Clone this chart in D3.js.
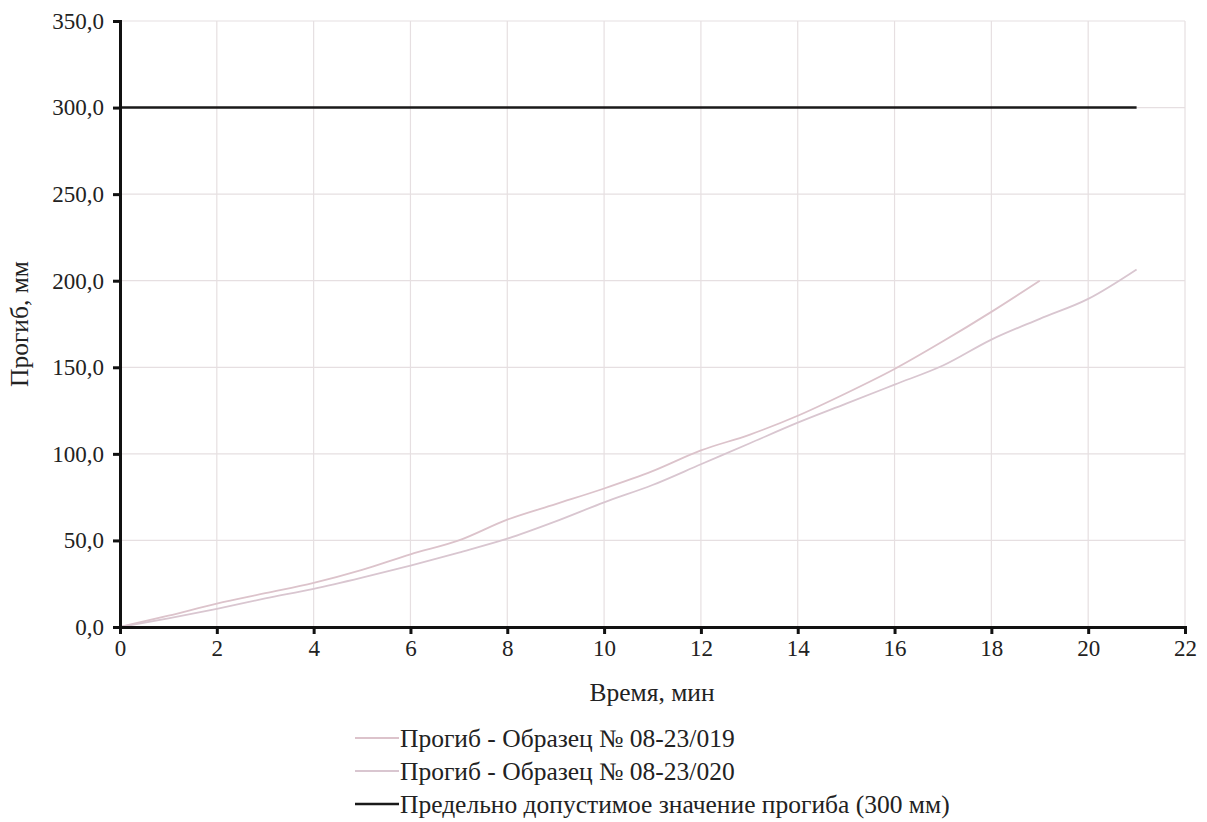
<!DOCTYPE html>
<html>
<head>
<meta charset="utf-8">
<script src="https://cdn.jsdelivr.net/npm/d3@7"></script>
</head>
<body style="margin:0">
<svg id="chart" width="1207" height="822"></svg>
<script>
'use strict';

// data (minutes -> deflection, mm)
const time019 = d3.range(0, 20);
const defl019 = [0, 6.5, 13.5, 19.5, 25.5, 33, 42, 50, 62, 71, 80, 90, 102, 111, 122, 135, 149, 165, 182, 200];
const time020 = d3.range(0, 22);
const defl020 = [0, 5, 10.5, 16.5, 22, 28.5, 35.5, 43, 51, 61, 72, 82, 94, 106, 118, 129, 140, 151, 166, 178, 189.5, 206.5];
const limitTime = [0, 21];
const limitValue = [300, 300];

const seriesNames = [
    'Прогиб - Образец № 08-23/019',
    'Прогиб - Образец № 08-23/020',
    'Предельно допустимое значение прогиба (300 мм)'
];
const seriesColors = ['#dcc3cb', '#d9c6d0', '#1a1a1a'];

const xTicks = d3.range(0, 23, 2);
const yTicks = d3.range(0, 351, 50);

const width = 1207, height = 822;
const margin = { top: 21, right: 22, bottom: 195, left: 120 };
const fontFamily = '"Liberation Serif"';
const tickSize = 23;
const labelSize = 25.5;

const svg = d3.select('#chart');

const x = d3.scaleLinear().domain([0, 22]).range([margin.left, width - margin.right]);
const y = d3.scaleLinear().domain([0, 350]).range([height - margin.bottom, margin.top]);

// grid
const grid = svg.append('g');
grid.selectAll('.vg').data(xTicks.slice(1)).join('line')
    .attr('x1', d => x(d)).attr('x2', d => x(d))
    .attr('y1', y(0)).attr('y2', y(350))
    .attr('stroke', '#e6dfe1').attr('stroke-width', 1.2);
grid.selectAll('.hg').data(yTicks.slice(1)).join('line')
    .attr('x1', x(0)).attr('x2', x(22))
    .attr('y1', d => y(d)).attr('y2', d => y(d))
    .attr('stroke', '#e6dfe1').attr('stroke-width', 1.2);

// series
const line = d3.line().x(d => x(d[0])).y(d => y(d[1])).curve(d3.curveMonotoneX);
const series = [
    d3.zip(time019, defl019),
    d3.zip(time020, defl020),
    d3.zip(limitTime, limitValue)
];
svg.append('g').selectAll('path').data(series).join('path')
    .attr('d', line)
    .attr('fill', 'none')
    .attr('stroke', (d, i) => seriesColors[i])
    .attr('stroke-width', (d, i) => i === 2 ? 2.5 : 1.8);

// axes
const fmt = d => d3.format('.1f')(d).replace('.', ',');
const xAxis = svg.append('g')
    .attr('transform', `translate(0,${y(0)})`)
    .call(d3.axisBottom(x).tickValues(xTicks).tickSize(7).tickPadding(6));
const yAxis = svg.append('g')
    .attr('transform', `translate(${x(0)},0)`)
    .call(d3.axisLeft(y).tickValues(yTicks).tickFormat(fmt).tickSize(7).tickPadding(9));

[xAxis, yAxis].forEach(ax => {
    ax.attr('font-family', fontFamily).attr('font-size', tickSize);
    ax.select('.domain').attr('stroke', '#111').attr('stroke-width', 3);
    ax.selectAll('.tick line').attr('stroke', '#111').attr('stroke-width', 3);
    ax.selectAll('.tick text')
        .attr('fill', '#222')
        .attr('font-family', fontFamily)
        .attr('font-size', tickSize);
});

// axis titles
svg.append('text')
    .attr('x', 652).attr('y', 701)
    .attr('text-anchor', 'middle')
    .attr('fill', '#222')
    .attr('font-family', fontFamily).attr('font-size', labelSize)
    .text('Время, мин');

svg.append('text')
    .attr('transform', `translate(28,${(y(0) + y(350)) / 2}) rotate(-90)`)
    .attr('text-anchor', 'middle')
    .attr('fill', '#222')
    .attr('font-family', fontFamily).attr('font-size', labelSize)
    .text('Прогиб, мм');

// legend
const legend = svg.append('g').attr('transform', 'translate(355,738)');
const rows = legend.selectAll('g').data(seriesNames).join('g')
    .attr('transform', (d, i) => `translate(0,${i * 33})`);
rows.append('line')
    .attr('x1', 0).attr('x2', 44)
    .attr('stroke', (d, i) => seriesColors[i])
    .attr('stroke-width', (d, i) => i === 2 ? 2.5 : 1.8);
rows.append('text')
    .attr('x', 45).attr('dy', '0.35em')
    .attr('fill', '#222')
    .attr('font-family', fontFamily).attr('font-size', labelSize)
    .text(d => d);
</script>
</body>
</html>
